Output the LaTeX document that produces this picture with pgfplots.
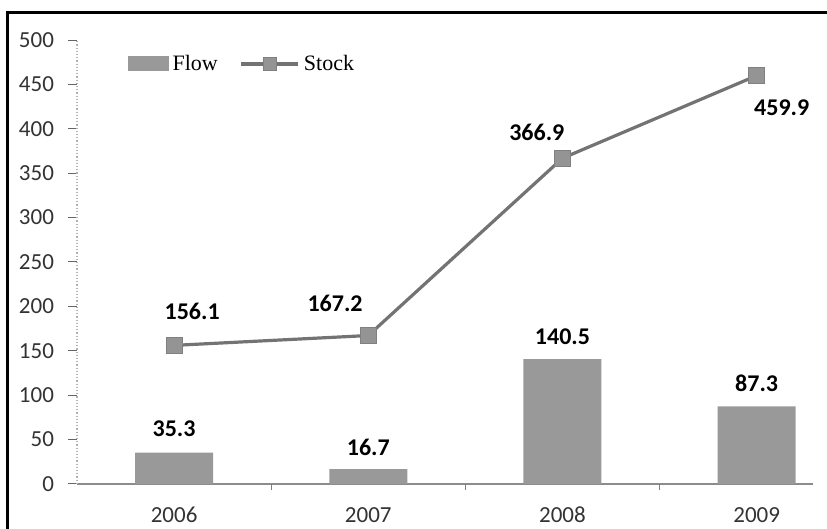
\documentclass[border=0pt]{standalone}
\usepackage{fontspec}
\setmainfont{Carlito}
\newfontfamily\legendfont{Liberation Serif}
\usepackage{pgfplots}
\pgfplotsset{compat=1.18}
\pgfplotsset{
  flowlegend/.style={legend image code/.code={\fill[black!40] (0pt,-3.75pt) rectangle (20.5pt,3.75pt);}},
  stocklegend/.style={legend image code/.code={%
    \draw[black!55, line width=1.6pt] (0pt,0pt) -- (28.5pt,0pt);
    \fill[black!42, draw=black!50, line width=0.5pt] (10.9pt,-3.3pt) rectangle (17.6pt,3.3pt);}},
}
\begin{document}
\begin{tikzpicture}[x=1pt,y=1pt]
% page = 827 x 529 px at 0.5pt per px, axis origin at (77,484) px
\useasboundingbox (-38.5,-22.5) rectangle (375,242);
\begin{axis}[
  at={(0,0)}, anchor=south west,
  scale only axis, width=368pt, height=222pt,
  xmin=-0.5, xmax=3.29, ymin=0, ymax=500,
  clip=false,
  axis x line=bottom, axis y line=left,
  axis line style={-},
  x axis line style={draw=black!45, line width=1.2pt},
  y axis line style={draw=black!30, densely dotted, line width=0.6pt},
  tick align=outside, major tick length=4.5pt,
  ytick={0,50,...,500},
  y tick style={draw=black!60, line width=0.5pt},
  xtick={0,1,2,3}, xticklabels={2006,2007,2008,2009},
  x tick style={draw=none},
  extra x ticks={0.5,1.5,2.5}, extra x tick labels={},
  extra x tick style={x tick style={draw=black!50, line width=0.5pt}, major tick length=3pt},
  tick label style={font=\fontsize{11.5}{13}\selectfont, text=black!80},
  /pgf/number format/assume math mode=true,
  yticklabel style={xshift=-3.5pt},
  xticklabel style={anchor=north, text height=8.3pt, text depth=0pt, yshift=-3pt},
  legend columns=2,
  legend style={draw=none, fill=none, at={(0.06,0.946)}, anchor=west,
    font=\legendfont\fontsize{11}{13}\selectfont,
    /tikz/every even column/.append style={column sep=9pt}},
  legend cell align=left,
]
\addplot[ybar, bar width=39pt, fill=black!40, draw=none, flowlegend]
  coordinates {(0,35.3) (1,16.7) (2,140.5) (3,87.3)};
\addlegendentry{Flow}
\addplot[black!55, line width=1.6pt, mark=square*, mark size=4pt,
  mark options={fill=black!42, draw=black!50, line width=0.5pt}, stocklegend]
  coordinates {(0,156.1) (1,167.2) (2,366.9) (3,459.9)};
\addlegendentry{Stock}

\begin{scope}[every node/.style={font=\fontsize{12}{14}\selectfont\bfseries}]
\node at (axis cs:0,61.9) {35.3};
\node at (axis cs:1,41.7) {16.7};
\node at (axis cs:2,165.5) {140.5};
\node at (axis cs:3,113.7) {87.3};
\node at (axis cs:0.093,194.8) {156.1};
\node at (axis cs:0.829,203.8) {167.2};
\node at (axis cs:1.868,396.4) {366.9};
\node at (axis cs:3.129,423.4) {459.9};
\end{scope}
\end{axis}
\draw[line width=1.5pt] (-34.5,-40) -- (-34.5,235.75) -- (400,235.75);
\end{tikzpicture}
\end{document}
